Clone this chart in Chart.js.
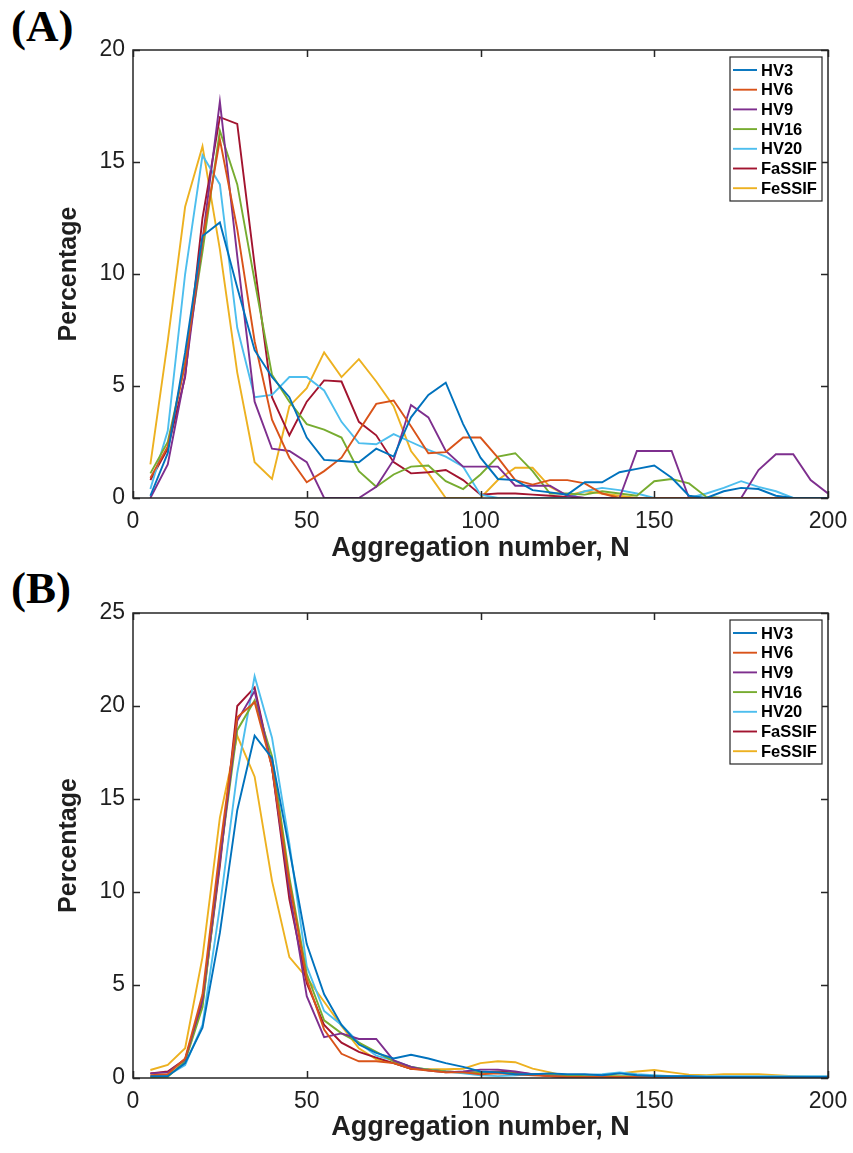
<!DOCTYPE html>
<html>
<head>
<meta charset="utf-8">
<script src="https://cdn.jsdelivr.net/npm/chart.js@4.4.0/dist/chart.umd.min.js"></script>
<style>
  html, body { margin: 0; padding: 0; background: #fff; }
  body { width: 853px; height: 1153px; position: relative; overflow: hidden; }
  .wrap { position: absolute; left: 0; width: 853px; }
  .panel-label { position: absolute; left: 11px; font-family: "Liberation Serif", "Times New Roman", serif; font-weight: bold; font-size: 45px; color: #000; line-height: 1; }
</style>
</head>
<body>
<div class="panel-label" style="top:4px;">(A)</div>
<div class="panel-label" style="top:566px;">(B)</div>
<div class="wrap" style="top:0; height:565px;"><canvas id="chartA" width="853" height="565"></canvas></div>
<div class="wrap" style="top:565px; height:588px;"><canvas id="chartB" width="853" height="588"></canvas></div>
<script>
// Aggregation number bins (N)
const aggN = [5,10,15,20,25,30,35,40,45,50,55,60,65,70,75,80,85,90,95,100,105,110,115,120,125,130,135,140,145,150,155,160,165,170,175,180,185,190,195,200];
const seriesNames = ['HV3','HV6','HV9','HV16','HV20','FaSSIF','FeSSIF'];
const seriesColors = ['#0072BD','#D95319','#7E2F8E','#77AC30','#4DBEEE','#A2142F','#EDB120'];
const yTicksA = [0,5,10,15,20];
const yTicksB = [0,5,10,15,20,25];
const xTicks = [0,50,100,150,200];

// Panel (A) percentages
const A_HV3    = [0.1,2.0,6.5,11.7,12.3,9.4,6.6,5.4,4.5,2.7,1.7,1.65,1.6,2.2,1.85,3.6,4.6,5.15,3.3,1.8,0.85,0.8,0.35,0.25,0.15,0.7,0.7,1.15,1.3,1.45,0.9,0.1,0.0,0.3,0.45,0.4,0.1,0,0,0];
const A_HV6    = [0.9,2.3,6.0,11.5,16.0,12.0,7.0,3.5,1.8,0.7,1.2,1.8,3.0,4.2,4.35,3.2,2.0,2.05,2.7,2.7,1.8,0.8,0.6,0.8,0.8,0.65,0.2,0,0,0,0,0,0,0,0,0,0,0,0,0];
const A_HV9    = [0,1.5,5.5,11.5,17.7,10.8,4.3,2.2,2.1,1.6,0,0,0,0.5,1.7,4.15,3.6,2.1,1.4,1.4,1.4,0.55,0.55,0.55,0.1,0,0,0,2.1,2.1,2.1,0,0,0,0,1.25,1.95,1.95,0.8,0.2];
const A_HV16   = [1.1,2.5,6.0,11.0,16.4,14.0,9.7,5.5,4.3,3.3,3.05,2.7,1.2,0.5,1.05,1.4,1.45,0.75,0.4,1.05,1.85,2.0,1.2,0.2,0.2,0.15,0.3,0.2,0.1,0.75,0.85,0.65,0.05,0,0,0,0,0,0,0];
const A_HV20   = [0.4,3.0,10.0,15.3,14.0,7.6,4.5,4.6,5.4,5.4,4.8,3.4,2.45,2.4,2.85,2.5,2.15,1.85,1.4,0.15,0,0,0,0,0,0.3,0.45,0.35,0.2,0,0,0,0.2,0.45,0.75,0.5,0.3,0,0,0];
const A_FaSSIF = [0.8,2.2,5.4,12.5,17.0,16.7,10.4,4.5,2.8,4.3,5.25,5.2,3.4,2.8,1.6,1.1,1.15,1.25,0.8,0.15,0.2,0.2,0.15,0.1,0.05,0,0,0,0,0,0,0,0,0,0,0,0,0,0,0];
const A_FeSSIF = [1.5,7.0,13.0,15.7,11.1,5.6,1.6,0.85,4.1,4.9,6.5,5.4,6.2,5.2,4.1,2.1,1.1,0,0,0,0.8,1.35,1.35,0.5,0.1,0.3,0.2,0.1,0,0,0,0,0,0,0,0,0,0,0,0];

// Panel (B) percentages
const B_HV3    = [0.1,0.1,0.8,2.7,7.8,14.4,18.4,17.2,12.3,7.2,4.5,2.85,1.8,1.35,1.05,1.25,1.05,0.8,0.6,0.35,0.3,0.2,0.2,0.25,0.2,0.2,0.15,0.25,0.15,0.1,0.1,0.1,0.05,0.05,0.05,0.05,0.05,0.05,0.05,0.05];
const B_HV6    = [0.15,0.2,1.05,4.5,12.3,19.4,20.2,16.7,10.5,5.3,2.6,1.3,0.9,0.9,0.8,0.5,0.4,0.3,0.3,0.2,0.25,0.2,0.15,0.1,0.05,0.05,0.05,0.05,0.05,0.05,0.05,0.05,0.05,0.05,0.05,0.05,0.05,0.05,0.05,0.05];
const B_HV9    = [0.25,0.3,1.0,4.2,11.7,19.2,20.8,16.7,10.1,4.4,2.2,2.4,2.1,2.1,0.95,0.6,0.4,0.3,0.35,0.45,0.45,0.35,0.2,0.1,0.05,0.05,0.05,0.05,0.05,0.05,0.05,0.05,0.05,0.05,0.05,0.05,0.05,0.05,0.05,0.05];
const B_HV16   = [0.05,0.07,0.9,3.8,11.7,18.7,20.3,17.3,10.8,5.6,3.1,2.4,1.9,1.4,0.9,0.6,0.45,0.35,0.3,0.3,0.3,0.25,0.2,0.2,0.15,0.1,0.1,0.1,0.1,0.1,0.05,0.05,0.05,0.05,0.05,0.05,0.05,0.05,0.05,0.05];
const B_HV20   = [0.05,0.15,0.7,2.85,9.2,16.4,21.6,18.3,12.6,6.0,3.6,2.85,1.9,1.2,0.95,0.6,0.45,0.35,0.25,0.15,0.1,0.15,0.2,0.2,0.15,0.15,0.2,0.3,0.2,0.15,0.1,0.1,0.1,0.1,0.1,0.1,0.1,0.1,0.1,0.1];
const B_FaSSIF = [0.25,0.35,1.0,4.0,11.4,20.0,21.0,16.7,9.6,5.1,2.85,1.9,1.4,1.1,0.8,0.5,0.45,0.35,0.3,0.3,0.35,0.3,0.2,0.1,0.05,0.05,0.05,0.05,0.05,0.05,0.05,0.05,0.05,0.05,0.05,0.05,0.05,0.05,0.05,0.05];
const B_FeSSIF = [0.43,0.7,1.6,6.5,14.0,18.4,16.2,10.6,6.5,5.4,4.1,2.8,1.6,1.0,0.8,0.5,0.47,0.47,0.5,0.8,0.9,0.85,0.5,0.3,0.1,0.0,0.07,0.25,0.35,0.43,0.3,0.18,0.15,0.2,0.2,0.2,0.15,0.1,0.07,0.07];

const seriesA = [A_HV3, A_HV6, A_HV9, A_HV16, A_HV20, A_FaSSIF, A_FeSSIF];
const seriesB = [B_HV3, B_HV6, B_HV9, B_HV16, B_HV20, B_FaSSIF, B_FeSSIF];

const FONT = '"Liberation Sans", Arial, Helvetica, sans-serif';
const INK = '#1f1f1f';

const framePlugin = {
  id: 'matlabFrame',
  afterDatasetsDraw(chart) {
    const {ctx, chartArea: a, scales: {x, y}} = chart;
    ctx.save();
    ctx.strokeStyle = '#262626';
    ctx.lineWidth = 1.5;
    const tl = 7;
    ctx.beginPath();
    x.ticks.forEach(t => {
      const px = Math.round(x.getPixelForValue(t.value)) + 0.5;
      ctx.moveTo(px, a.bottom); ctx.lineTo(px, a.bottom - tl);
      ctx.moveTo(px, a.top); ctx.lineTo(px, a.top + tl);
    });
    y.ticks.forEach(t => {
      const py = Math.round(y.getPixelForValue(t.value)) + 0.5;
      ctx.moveTo(a.left, py); ctx.lineTo(a.left + tl, py);
      ctx.moveTo(a.right, py); ctx.lineTo(a.right - tl, py);
    });
    ctx.stroke();
    ctx.strokeRect(a.left, a.top, a.right - a.left, a.bottom - a.top);

    // legend box (top-right, inside the axes)
    const bw = 92, bh = 144;
    const bx = a.right - 98, by = a.top + 7;
    ctx.fillStyle = '#fff';
    ctx.fillRect(bx, by, bw, bh);
    ctx.lineWidth = 1.2;
    ctx.strokeRect(bx, by, bw, bh);
    ctx.font = 'bold 16.5px ' + FONT;
    ctx.textBaseline = 'middle';
    ctx.textAlign = 'left';
    chart.data.datasets.forEach((ds, i) => {
      const cy = by + 13 + i * 19.7;
      ctx.strokeStyle = ds.borderColor;
      ctx.lineWidth = 1.9;
      ctx.beginPath();
      ctx.moveTo(bx + 3, cy); ctx.lineTo(bx + 27, cy);
      ctx.stroke();
      ctx.fillStyle = '#000';
      ctx.fillText(ds.label, bx + 31, cy + 1);
    });
    ctx.restore();
  }
};

function makeChart(id, series, yMax, padTop, xHeight, padBottom) {
  const datasets = series.map((vals, i) => ({
    label: seriesNames[i],
    data: aggN.map((n, k) => ({x: n, y: vals[k]})),
    borderColor: seriesColors[i],
    backgroundColor: seriesColors[i],
    borderWidth: 1.9,
    pointRadius: 0,
    tension: 0,
    fill: false
  }));
  return new Chart(document.getElementById(id), {
    type: 'line',
    data: { datasets },
    plugins: [framePlugin],
    options: {
      responsive: false,
      animation: false,
      devicePixelRatio: 1,
      events: [],
      layout: { padding: { left: 0, right: 25, top: padTop, bottom: padBottom } },
      plugins: { legend: { display: false }, tooltip: { enabled: false } },
      scales: {
        x: {
          type: 'linear', min: 0, max: 200,
          afterBuildTicks: s => { s.ticks = xTicks.map(v => ({value: v})); },
          afterFit: s => { s.height = xHeight; s.paddingLeft = 0; s.paddingRight = 0; },
          grid: { display: false, drawTicks: false },
          border: { display: false },
          ticks: { padding: 10, color: INK, font: { family: FONT, size: 23 }, maxRotation: 0 },
          title: { display: true, text: 'Aggregation number, N', color: INK, font: { family: FONT, size: 27, weight: 'bold' }, padding: { top: 0, bottom: 0 } }
        },
        y: {
          min: 0, max: yMax,
          afterBuildTicks: s => { s.ticks = (yMax === 20 ? yTicksA : yTicksB).map(v => ({value: v})); },
          afterFit: s => { s.width = 133; s.paddingTop = 0; s.paddingBottom = 0; },
          grid: { display: false, drawTicks: false },
          border: { display: false },
          ticks: { padding: 8, color: INK, font: { family: FONT, size: 23 } },
          title: { display: true, text: 'Percentage', color: INK, font: { family: FONT, size: 25, weight: 'bold' }, padding: { top: 54, bottom: 0 } }
        }
      }
    }
  });
}

makeChart('chartA', seriesA, 20, 50, 67, 0);
makeChart('chartB', seriesB, 25, 48, 66, 9);
</script>
</body>
</html>
